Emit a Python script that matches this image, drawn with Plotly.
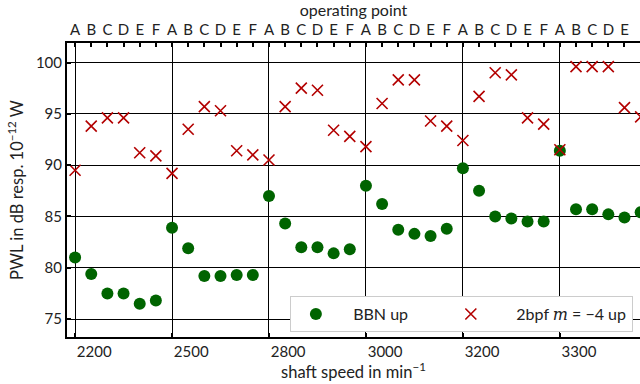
import plotly.graph_objects as go

# Operating points measured at each shaft speed
speeds = [2200, 2500, 2800, 3000, 3200, 3300]
points = ["A", "B", "C", "D", "E", "F"]

# Sound power levels (dB re 1e-12 W), ordered speed-major, point-minor
bbn_up = [81.0, 79.4, 77.5, 77.5, 76.5, 76.8,
          83.9, 81.9, 79.2, 79.2, 79.3, 79.3,
          87.0, 84.3, 82.0, 82.0, 81.4, 81.8,
          88.0, 86.2, 83.7, 83.3, 83.1, 83.8,
          89.7, 87.5, 85.0, 84.8, 84.5, 84.5,
          91.4, 85.7, 85.7, 85.2, 84.9, 85.4]
bpf2_m4_up = [89.5, 93.8, 94.6, 94.6, 91.2, 90.9,
              89.2, 93.5, 95.7, 95.3, 91.4, 91.0,
              90.5, 95.7, 97.5, 97.3, 93.4, 92.8,
              91.8, 96.0, 98.3, 98.3, 94.3, 93.8,
              92.4, 96.7, 99.0, 98.8, 94.6, 94.0,
              91.5, 99.6, 99.6, 99.6, 95.6, 94.7]

n_pts = len(points)
idx = list(range(len(speeds) * n_pts))
top_labels = [p for _ in speeds for p in points]
speed_ticks = [i * n_pts for i in range(len(speeds))]

FONT = "Lato"
NB = "\u00a0"
xr = [-0.5, 34.96]

fig = go.Figure()
fig.add_trace(go.Scatter(
    x=idx, y=bbn_up, mode="markers",
    name=NB * 3 + "BBN up" + NB * 8,
    marker=dict(symbol="circle", size=12, color="#006400"),
))
fig.add_trace(go.Scatter(
    x=idx, y=bpf2_m4_up, mode="markers",
    name=NB * 5 + "2bpf <i><span style='font-family:DejaVu Serif'>m</span></i>"
         + NB + "=" + NB + "−4 up",
    marker=dict(symbol="x-thin", size=11, color="#b30000",
                line=dict(width=1.6, color="#b30000")),
))
# carrier for the top (operating point) axis
fig.add_trace(go.Scatter(x=[xr[0]], y=[None], xaxis="x2", mode="markers",
                         showlegend=False, hoverinfo="skip"))

fig.update_layout(
    width=640, height=384,
    margin=dict(l=67, r=0, t=43, b=47),
    paper_bgcolor="white", plot_bgcolor="white",
    font=dict(family=FONT, size=15, color="#222222"),
    xaxis=dict(
        range=xr, tickmode="array", tickvals=speed_ticks,
        ticktext=[str(s) for s in speeds],
        ticks="inside", ticklen=4, tickwidth=1.5, tickcolor="black",
        ticklabelposition="outside right",
        showgrid=True, gridcolor="black", gridwidth=1,
        showline=True, linecolor="black", linewidth=2, zeroline=False,
        title=dict(text="shaft speed in min<sup>−1</sup>", standoff=3,
                   font=dict(size=16.5)),
    ),
    xaxis2=dict(
        range=xr, overlaying="x", side="top", tickmode="array",
        tickvals=idx, ticktext=top_labels,
        ticks="inside", ticklen=4, tickwidth=1.5, tickcolor="black",
        showgrid=False, showline=True, linecolor="black", linewidth=2,
        zeroline=False,
        title=dict(text="operating point", standoff=1, font=dict(size=16)),
    ),
    yaxis=dict(
        range=[73.25, 101.9], tickmode="array",
        tickvals=[75, 80, 85, 90, 95, 100],
        ticks="inside", ticklen=4, tickwidth=1.5, tickcolor="black",
        showgrid=True, gridcolor="black", gridwidth=1,
        showline=True, linecolor="black", linewidth=2, zeroline=False,
        title=dict(text="PWL in dB resp. 10<sup>−12</sup> W", standoff=8,
                   font=dict(size=16.5)),
    ),
    legend=dict(
        orientation="h", x=0.389, y=0.139, xanchor="left", yanchor="top",
        bgcolor="white", bordercolor="#cccccc", borderwidth=1,
        font=dict(size=16), itemwidth=40,
    ),
    showlegend=True,
)

fig.write_html("out.html")
